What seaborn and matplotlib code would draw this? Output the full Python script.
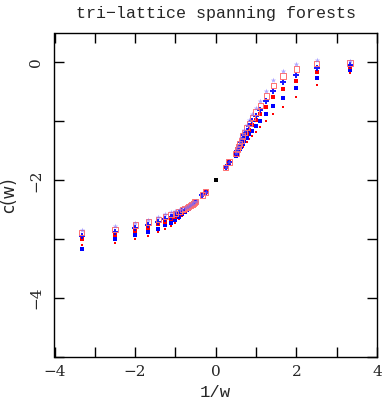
import matplotlib
matplotlib.use("Agg")
import matplotlib.pyplot as plt
import seaborn as sns
import pandas as pd
from matplotlib.ticker import MultipleLocator

sns.set_style("ticks")
plt.rcParams['font.family'] = ['DejaVu Serif']

# x = 1/w positions
x_pos = [3.33, 2.5, 2.0, 1.67, 1.43, 1.25, 1.11, 1.0, 0.91, 0.83, 0.77, 0.71,
         0.67, 0.63, 0.59, 0.56, 0.53, 0.5, 0.33, 0.25]
x_neg = [-0.25, -0.33, -0.5, -0.53, -0.56, -0.59, -0.63, -0.67, -0.71, -0.77,
         -0.83, -0.91, -1.0, -1.11, -1.25, -1.43, -1.67, -2.0, -2.5, -3.33]
x_vals = x_pos + x_neg

# series values (positive side followed by negative side)
s1 = [-0.18, -0.38, -0.58, -0.75, -0.88, -1.00, -1.10, -1.18, -1.25, -1.30, -1.35, -1.40,
      -1.44, -1.48, -1.51, -1.54, -1.57, -1.60, -1.70, -1.78,
      -2.20, -2.25, -2.38, -2.40, -2.42, -2.44, -2.47, -2.49, -2.52, -2.56,
      -2.60, -2.65, -2.73, -2.78, -2.82, -2.88, -2.95, -3.00, -3.07, -3.10]
s2 = [-0.13, -0.27, -0.44, -0.60, -0.74, -0.87, -0.99, -1.08, -1.16, -1.22, -1.28, -1.34,
      -1.39, -1.43, -1.47, -1.51, -1.55, -1.58, -1.70, -1.78,
      -2.20, -2.25, -2.38, -2.39, -2.41, -2.43, -2.46, -2.48, -2.50, -2.54,
      -2.57, -2.62, -2.68, -2.72, -2.76, -2.82, -2.88, -2.93, -3.00, -3.16]
s3 = [-0.08, -0.17, -0.31, -0.45, -0.59, -0.75, -0.88, -0.98, -1.07, -1.14, -1.21, -1.28,
      -1.33, -1.38, -1.43, -1.48, -1.52, -1.56, -1.69, -1.78,
      -2.20, -2.25, -2.37, -2.39, -2.41, -2.42, -2.45, -2.46, -2.49, -2.52,
      -2.55, -2.58, -2.63, -2.66, -2.70, -2.75, -2.81, -2.86, -2.93, -3.00]
s4 = [-0.04, -0.09, -0.21, -0.34, -0.49, -0.65, -0.80, -0.91, -1.00, -1.08, -1.16, -1.23,
      -1.29, -1.35, -1.40, -1.45, -1.50, -1.55, -1.69, -1.78,
      -2.20, -2.25, -2.37, -2.38, -2.40, -2.41, -2.44, -2.45, -2.47, -2.50,
      -2.52, -2.55, -2.59, -2.62, -2.66, -2.70, -2.76, -2.81, -2.88, -2.94]
s5 = [-0.01, -0.02, -0.11, -0.23, -0.39, -0.57, -0.73, -0.84, -0.94, -1.03, -1.11, -1.19,
      -1.25, -1.32, -1.37, -1.43, -1.48, -1.54, -1.69, -1.78,
      -2.20, -2.25, -2.36, -2.37, -2.39, -2.41, -2.43, -2.44, -2.46, -2.48,
      -2.50, -2.53, -2.56, -2.58, -2.62, -2.66, -2.71, -2.76, -2.83, -2.89]
s6 = [0.02, 0.05, -0.03, -0.14, -0.30, -0.49, -0.66, -0.78, -0.88, -0.98, -1.07, -1.15,
      -1.22, -1.29, -1.35, -1.41, -1.47, -1.53, -1.69, -1.78,
      -2.20, -2.25, -2.36, -2.37, -2.39, -2.40, -2.42, -2.43, -2.45, -2.47,
      -2.49, -2.51, -2.53, -2.54, -2.58, -2.62, -2.67, -2.72, -2.78, -2.84]

x_center = [0.0]
y_center = [-2.0]

fig = plt.figure(figsize=(3.83, 4.09), dpi=100)
ax = fig.add_axes([54.5/383, 1-357/409, (377-54.5)/383, (357-33)/409])

styles = [
    (s1, dict(color='#ff0000', marker='s', s=4, linewidth=0)),
    (s2, dict(color='#0000ff', marker='s', s=5, linewidth=0)),
    (s3, dict(color='#ff0000', marker='s', s=7, linewidth=0)),
    (s4, dict(color='#0000ff', marker='P', s=14, linewidth=0, alpha=0.9)),
    (s5, dict(facecolor='none', edgecolor='#ff7070', marker='s', s=14, linewidth=0.7)),
    (s6, dict(color='#7766ff', marker='*', s=16, linewidth=0, alpha=0.6)),
]
for ys, kw in styles:
    df = pd.DataFrame({'x': x_vals, 'y': ys})
    sns.scatterplot(data=df, x='x', y='y', ax=ax, legend=False, **kw)

df0 = pd.DataFrame({'x': x_center, 'y': y_center})
sns.scatterplot(data=df0, x='x', y='y', ax=ax, color='black', marker='s', s=7,
                linewidth=0, legend=False)

ax.set_xlim(-4, 4)
ax.set_ylim(-5, 0.5)
ax.xaxis.set_major_locator(MultipleLocator(2))
ax.xaxis.set_minor_locator(MultipleLocator(1))
ax.yaxis.set_major_locator(MultipleLocator(2))
ax.yaxis.set_minor_locator(MultipleLocator(1))
ax.tick_params(which='both', direction='in', top=True, right=True,
               length=7, width=1, color='black', labelsize=11)
ax.tick_params(axis='both', pad=6)
ax.tick_params(axis='y', labelrotation=90, pad=8)
for lab in ax.get_yticklabels():
    lab.set_verticalalignment('center')
for sp in ax.spines.values():
    sp.set_color('black')
    sp.set_linewidth(1)
    sp.set_visible(True)

ax.set_xlabel('1/w', fontsize=12.5, labelpad=4, family=['Liberation Mono'])
ax.set_ylabel('c(w)', fontsize=12, labelpad=8, family=['DejaVu Sans'])
ax.set_title('tri\u2212lattice spanning forests', fontsize=12, pad=11,
             family=['Liberation Mono', 'DejaVu Sans'])

fig.savefig('out.png', dpi=100)
